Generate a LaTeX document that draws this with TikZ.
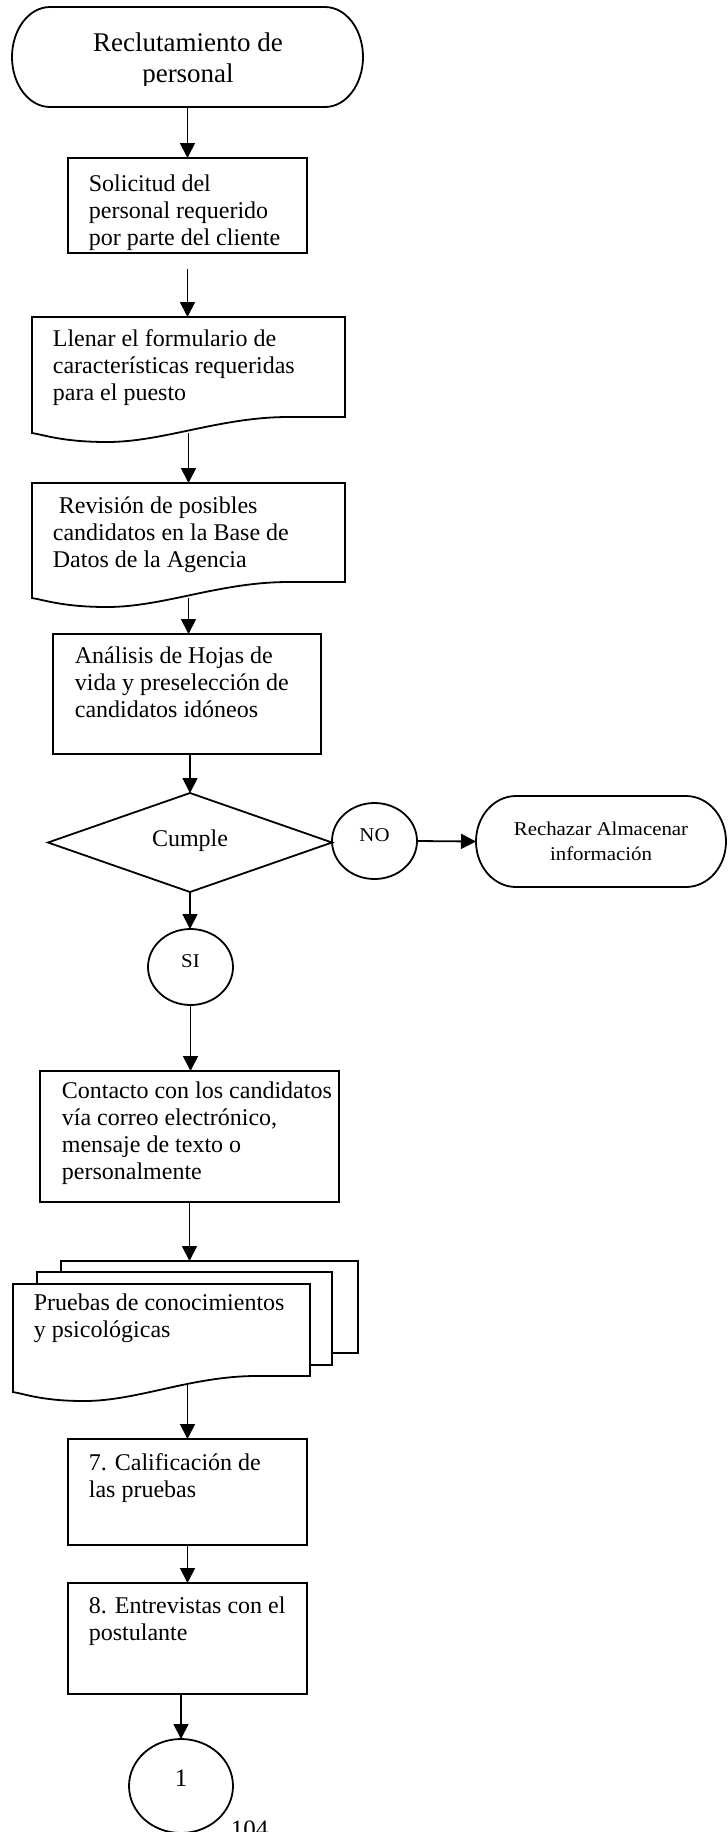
\documentclass[tikz,border=0pt]{standalone}
\usepackage{fontspec}
\setmainfont{Liberation Serif}
\newfontfamily\widefont[FakeStretch=1.07]{Liberation Serif}
\usetikzlibrary{arrows.meta,calc,shapes.geometric}

% outline of a flowchart "document" symbol drawn around a frame node
\newcommand{\docpath}[1]{%
  \draw[fill=white] (#1.south west) -- (#1.north west) -- (#1.north east)
    -- ($(#1.south east)+(0,-16)$)
    -- ($(#1.south west)!0.82!(#1.south east)+(0,-16)$)
    .. controls ($(#1.south west)!0.6!(#1.south east)+(0,-16)$)
       and ($(#1.south west)!0.42!(#1.south east)+(0,9)$)
    .. ($(#1.south west)!0.24!(#1.south east)+(0,9)$)
    .. controls ($(#1.south west)!0.1!(#1.south east)+(0,9)$)
       and ($(#1.south west)!0.04!(#1.south east)+(0,2)$)
    .. (#1.south west) -- cycle;}

% stadium-shaped terminator around a frame node
\newcommand{\termpath}[3]{%
  \draw ($(#1.north west)+(#2,0)$) -- ($(#1.north east)+(-#2,0)$)
    arc[start angle=90, end angle=-90, x radius=#2pt, y radius=#3pt]
    -- ($(#1.south west)+(#2,0)$)
    arc[start angle=270, end angle=90, x radius=#2pt, y radius=#3pt] -- cycle;}

\begin{document}
\begin{tikzpicture}[x=1pt,y=-1pt,line width=1.8pt,
  frame/.style={rectangle, inner sep=0pt, outer sep=0pt},
  boxnode/.style={frame, draw, fill=white},
  txt/.style={anchor=north west, inner sep=0pt, align=left,
    font=\fontsize{24}{27}\selectfont, execute at begin node=\strut},
  ovalnode/.style={draw, ellipse, inner sep=0pt, outer sep=0pt,
    font=\widefont\fontsize{19.5}{22}\selectfont, text depth=11pt},
  flow/.style={-{Triangle[width=15pt,length=15pt]}},
]
\useasboundingbox (0,0) rectangle (728,1832);

% start terminator
\node[frame, minimum width=351pt, minimum height=100pt] (term) at (187.5,57) {};
\termpath{term}{38}{50}
\begin{scope}
  \clip (0,0) rectangle (728,85);
  \node[anchor=north, inner sep=0pt, align=center,
    font=\fontsize{27}{31}\selectfont, execute at begin node=\strut]
    (termtext) at ($(term.north)+(0.5,25)$) {Reclutamiento de\\personal};
\end{scope}

% process steps
\node[boxnode, minimum width=239pt, minimum height=95pt] (sol) at (187.5,205.5) {};
\node[txt] (solT) at ($(sol.north west)+(20,16)$)
  {Solicitud del\\personal requerido\\por parte del cliente};

\node[frame, minimum width=313pt, minimum height=116pt] (form) at (188.5,375) {};
\docpath{form}
\node[txt] (formT) at ($(form.north west)+(20,12)$)
  {Llenar el formulario de\\características requeridas\\para el puesto};

\node[frame, minimum width=313pt, minimum height=115pt] (rev) at (188.5,540.5) {};
\docpath{rev}
\node[txt] (revT) at ($(rev.north west)+(20,13)$)
  {\ Revisión de posibles\\candidatos en la Base de\\Datos de la Agencia};

\node[boxnode, minimum width=268pt, minimum height=120pt] (ana) at (187,694) {};
\node[txt] (anaT) at ($(ana.north west)+(21,12)$)
  {Análisis de Hojas de\\vida y preselección de\\candidatos idóneos};

% decision
\node[frame, minimum width=284pt, minimum height=99pt,
  font=\fontsize{24}{27}\selectfont, text depth=9pt] (cumple) at (190,842.5) {Cumple};
\draw (cumple.north) -- (cumple.east) -- (cumple.south) -- (cumple.west) -- cycle;

\node[ovalnode, minimum width=85pt, minimum height=76pt] (no) at (374.5,841) {NO};
\node[frame, minimum width=250pt, minimum height=91pt, align=center,
  font=\widefont\fontsize{19.5}{25}\selectfont] (rech) at (601,841.5)
  {Rechazar Almacenar\\información};
\termpath{rech}{40}{45.5}

\node[ovalnode, minimum width=85pt, minimum height=76pt] (si) at (190.5,967) {SI};

\node[boxnode, minimum width=299pt, minimum height=131pt] (contacto) at (189.5,1136.5) {};
\node[txt] (contactoT) at ($(contacto.north west)+(21,10)$)
  {Contacto con los candidatos\\vía correo electrónico,\\mensaje de texto o\\personalmente};

% stacked documents
\node[boxnode, minimum width=297pt, minimum height=92pt] (back) at (209.5,1307) {};
\node[boxnode, minimum width=295pt, minimum height=93pt] (middle) at (184.5,1318.5) {};
\node[frame, minimum width=297pt, minimum height=108pt] (pruebas) at (161.5,1338) {};
\docpath{pruebas}
\node[txt] (pruebasT) at ($(pruebas.north west)+(20,9)$)
  {Pruebas de conocimientos\\y psicológicas};

\node[boxnode, minimum width=239pt, minimum height=106pt] (calif) at (187.5,1492) {};
\node[txt] (califT) at ($(calif.north west)+(20,14)$)
  {7. Calificación de\\las pruebas};

\node[boxnode, minimum width=239pt, minimum height=111pt] (entrev) at (187.5,1638.5) {};
\node[txt] (entrevT) at ($(entrev.north west)+(20,13)$)
  {8. Entrevistas con el\\postulante};

% off-page connector and page number
\node[draw, ellipse, inner sep=0pt, outer sep=0pt, minimum width=104pt, minimum height=94pt,
  font=\fontsize{25}{30}\selectfont, text depth=15pt] (one) at (181,1786) {1};
\node[anchor=base west, inner sep=0pt, font=\fontsize{25}{30}\selectfont] (pg) at (230,1837) {104};

% connectors
\draw[flow] (term.south) -- (sol.north);
\draw[flow, shorten <=16pt] (sol.south) -- (sol.south |- form.north);
\draw[flow] (form.south) -- (form.south |- rev.north);
\draw[flow] (rev.south) -- (rev.south |- ana.north);
\draw[flow] (ana.south -| cumple.north) -- (cumple.north);
\draw[flow] (cumple.south) -- (cumple.south |- si.north);
\draw[flow] (no.east) -- (rech.west);
\draw[flow] (si.south) -- (si.south |- contacto.north);
\draw[flow] (contacto.south) -- (contacto.south |- back.north);
\draw[flow] ($(pruebas.south -| calif.north)+(0,-8)$) -- (calif.north);
\draw[flow] (calif.south) -- (entrev.north);
\draw[flow] (entrev.south -| one.north) -- (one.north);
\end{tikzpicture}
\end{document}
